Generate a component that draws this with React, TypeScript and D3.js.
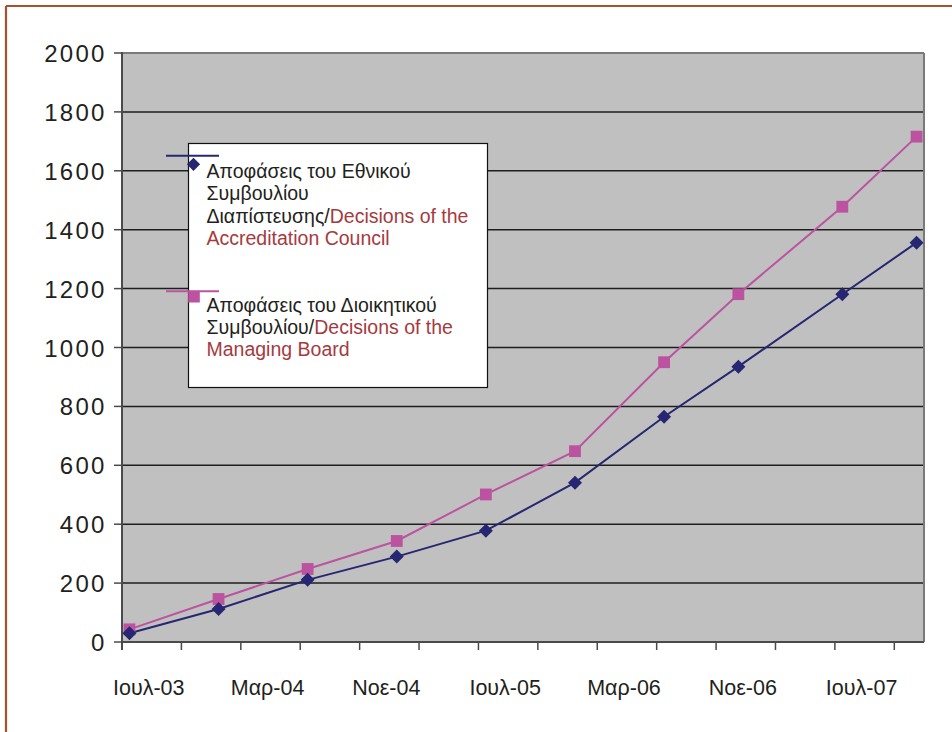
import React from "react";
import * as d3 from "d3";

const months = ["2003-07", "2004-01", "2004-07", "2005-01", "2005-07", "2006-01", "2006-07", "2006-12", "2007-07", "2007-12"];
const councilDecisions = [30, 112, 211, 290, 378, 541, 765, 935, 1181, 1356];
const boardDecisions = [43, 146, 248, 343, 501, 648, 950, 1181, 1478, 1716];
const yTicks = [0, 200, 400, 600, 800, 1000, 1200, 1400, 1600, 1800, 2000];
const xLabelMonths = ["2003-07", "2004-03", "2004-11", "2005-07", "2006-03", "2006-11", "2007-07"];
const xLabels = ["Ιουλ-03", "Μαρ-04", "Νοε-04", "Ιουλ-05", "Μαρ-06", "Νοε-06", "Ιουλ-07"];
const totalMonths = 54;
const tickEvery = 4;

const monthIndex = (s: string) => {
  const [y, m] = s.split("-").map(Number);
  return (y - 2003) * 12 + (m - 7);
};

const NAVY = "#262673";
const MAGENTA = "#bb53a0";
const RED = "#a63a3e";
const INK = "#231f20";

export default function App() {
  const left = 122, right = 924, top = 53, bottom = 642;
  const x = d3.scaleLinear().domain([0, totalMonths]).range([left, right]);
  const y = d3.scaleLinear().domain([0, 2000]).range([bottom, top]);
  const px = (s: string) => x(monthIndex(s) + 0.5);

  const line = d3.line<number>().x((_, i) => px(months[i])).y((v) => y(v));
  const tickIdx = d3.range(0, totalMonths, tickEvery);

  const diamond = (cx: number, cy: number, r = 7) =>
    `M${cx},${cy - r}L${cx + r},${cy}L${cx},${cy + r}L${cx - r},${cy}Z`;
  const sq = 11.8;

  const legendFont = 19.5;

  return (
    <svg width={952} height={732} style={{ position: "absolute", left: 0, top: 0 }}
      fontFamily="'Liberation Sans', Arial, sans-serif">
      <rect x={0} y={0} width={952} height={732} fill="#fff" />
      {/* outer frame */}
      <line x1={6} y1={6} x2={952} y2={6} stroke="#a9502f" strokeWidth={2.2} />
      <line x1={6} y1={6} x2={6} y2={732} stroke="#a9502f" strokeWidth={2.2} />

      {/* plot area */}
      <rect x={left} y={top} width={right - left} height={bottom - top} fill="#c0c0c0" />
      {yTicks.filter((t) => t > 0 && t < 2000).map((t) => (
        <line key={t} x1={left} x2={right} y1={y(t)} y2={y(t)} stroke="#1e1e1e" strokeWidth={1.5} />
      ))}
      <line x1={left} x2={right} y1={top} y2={top} stroke="#7a7a7a" strokeWidth={2} />
      <line x1={right} x2={right} y1={top} y2={bottom} stroke="#7a7a7a" strokeWidth={2} />
      <line x1={left} x2={right} y1={bottom} y2={bottom} stroke="#4a4a4a" strokeWidth={2} />
      <line x1={left} x2={left} y1={top - 1} y2={bottom + 8} stroke="#4a4a4a" strokeWidth={2} />

      {/* y ticks & labels */}
      {yTicks.map((t) => (
        <g key={t}>
          <line x1={left - 8} x2={left} y1={y(t)} y2={y(t)} stroke="#4a4a4a" strokeWidth={1.5} />
          <text x={106.5} y={y(t) + 9} textAnchor="end" fontSize={24} letterSpacing={2.2} fill={INK}>
            {t}
          </text>
        </g>
      ))}

      {/* x ticks & labels */}
      {tickIdx.map((m) => (
        <line key={m} x1={x(m)} x2={x(m)} y1={bottom} y2={bottom + 8} stroke="#4a4a4a" strokeWidth={1.5} />
      ))}
      {xLabels.map((lab, i) => (
        <text key={lab} x={x(monthIndex(xLabelMonths[i]) + 1.8)} y={695} textAnchor="middle" fontSize={21.5} fill={INK}>
          {lab}
        </text>
      ))}

      {/* series */}
      <path d={line(boardDecisions) || ""} fill="none" stroke={MAGENTA} strokeWidth={2} />
      <path d={line(councilDecisions) || ""} fill="none" stroke={NAVY} strokeWidth={2} />
      {boardDecisions.map((v, i) => (
        <rect key={"b" + i} x={px(months[i]) - sq / 2} y={y(v) - sq / 2} width={sq} height={sq} fill={MAGENTA} />
      ))}
      {councilDecisions.map((v, i) => (
        <path key={"c" + i} d={diamond(px(months[i]), y(v))} fill={NAVY} />
      ))}

      {/* legend */}
      <rect x={188.5} y={143.5} width={299} height={244} fill="#fff" stroke="#111" strokeWidth={1.2} />
      <line x1={166} x2={219} y1={155.7} y2={155.7} stroke={NAVY} strokeWidth={2} />
      <path d={diamond(193.5, 164.3, 6.6)} fill={NAVY} />
      <line x1={166} x2={219} y1={291.3} y2={291.3} stroke={MAGENTA} strokeWidth={2} />
      <rect x={194 - 5.8} y={296.7 - 5.8} width={11.6} height={11.6} fill={MAGENTA} />

      <text fontSize={legendFont} fill={INK}>
        <tspan x={206.5} y={177.7}>Αποφάσεις του Εθνικού</tspan>
        <tspan x={206.5} y={200.2}>Συμβουλίου</tspan>
        <tspan x={206.5} y={222.5}>Διαπίστευσης/<tspan fill={RED}>Decisions of the</tspan></tspan>
        <tspan x={206.5} y={244.5} fill={RED}>Accreditation Council</tspan>
      </text>
      <text fontSize={legendFont} fill={INK}>
        <tspan x={206.5} y={311.7}>Αποφάσεις του Διοικητικού</tspan>
        <tspan x={206.5} y={334}>Συμβουλίου/<tspan fill={RED}>Decisions of the</tspan></tspan>
        <tspan x={206.5} y={356.3} fill={RED}>Managing Board</tspan>
      </text>
    </svg>
  );
}
